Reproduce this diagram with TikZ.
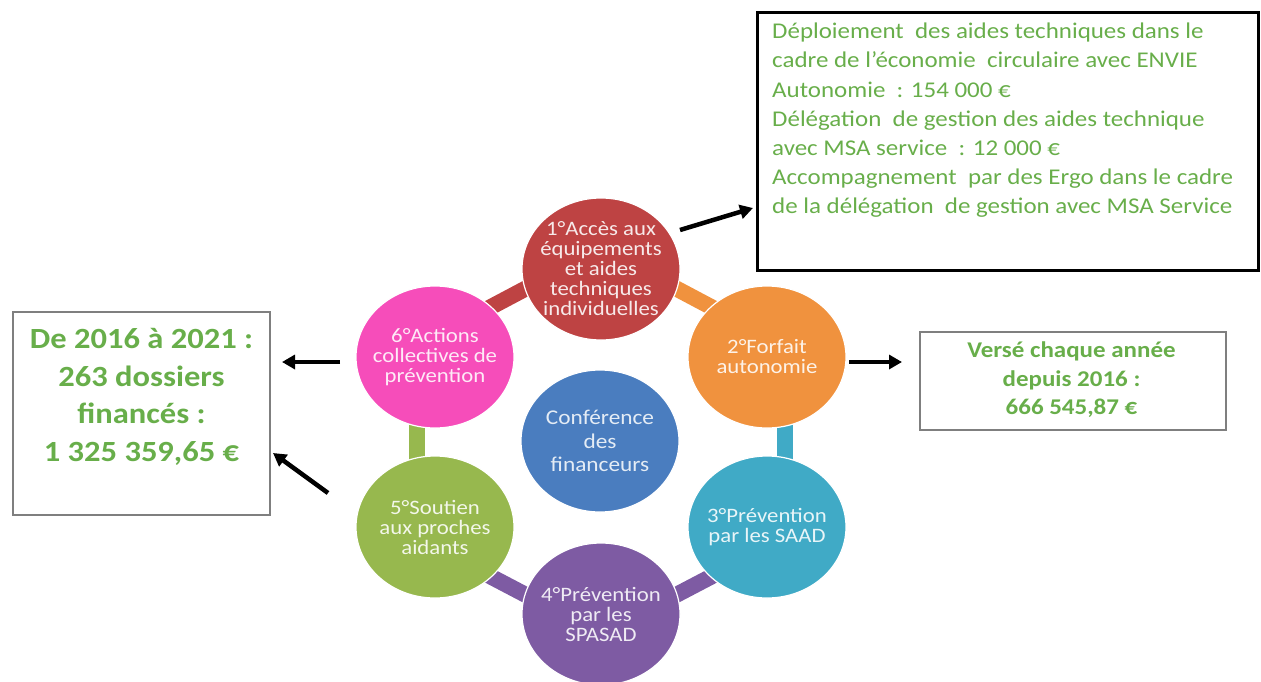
\documentclass[tikz,border=0pt]{standalone}
\usepackage{fontspec}
\setmainfont{Carlito}[FakeStretch=1.11]
\usetikzlibrary{arrows.meta,calc,backgrounds,shapes.geometric}

\definecolor{cred}{HTML}{BE4343}
\definecolor{corange}{HTML}{F0923E}
\definecolor{ccyan}{HTML}{40AAC6}
\definecolor{cpurple}{HTML}{7E5BA3}
\definecolor{cgreen}{HTML}{97B84E}
\definecolor{cpink}{HTML}{F64DBA}
\definecolor{cblue}{HTML}{4A7DBF}
\definecolor{txtgreen}{HTML}{68AE4A}
\definecolor{boxgray}{HTML}{7F7F7F}

\begin{document}
\begin{tikzpicture}[x=1pt,y=-1pt,
  disc/.style={ellipse, fill=#1, draw=white, line width=1.2pt,
    minimum width=158pt, minimum height=142pt, inner sep=0pt},
  disctext/.style={text=white!88!#1, font=\fontsize{20.5}{20}\selectfont,
    align=center, inner sep=0pt},
  ringbar/.style={line width=16pt, draw=#1},
  arr/.style={line width=4.5pt, -{Triangle[length=13pt,width=14pt]}},
  framebox/.style={draw=boxgray, line width=1.5pt, inner sep=0pt},
  greentext/.style={text=txtgreen, inner sep=0pt}
]
\useasboundingbox (0,0) rectangle (1261,681);

% ring of the six action areas around the central conference
\node[disc=cblue]   (c0) at (600,441) {};
\node[disc=cred]    (c1) at (601,269) {};
\node[disc=corange] (c2) at (767,357) {};
\node[disc=ccyan]   (c3) at (767,527) {};
\node[disc=cpurple] (c4) at (601,614) {};
\node[disc=cgreen]  (c5) at (435,527) {};
\node[disc=cpink]   (c6) at (435,357) {};

% short links between neighbouring discs, behind the discs
\begin{scope}[on background layer]
  \draw[ringbar=cred]    ($(c6)!18pt!90:(c1)$) -- ($(c1)!18pt!-90:(c6)$);
  \draw[ringbar=corange] ($(c1)!18pt!90:(c2)$) -- ($(c2)!18pt!-90:(c1)$);
  \draw[ringbar=ccyan]   ($(c2)!18pt!90:(c3)$) -- ($(c3)!18pt!-90:(c2)$);
  \draw[ringbar=cpurple] ($(c3)!18pt!90:(c4)$) -- ($(c4)!18pt!-90:(c3)$);
  \draw[ringbar=cpurple] ($(c4)!18pt!90:(c5)$) -- ($(c5)!18pt!-90:(c4)$);
  \draw[ringbar=cgreen]  ($(c5)!18pt!90:(c6)$) -- ($(c6)!18pt!-90:(c5)$);
\end{scope}

% disc labels
\node[text=white!85!cblue, font=\fontsize{21}{23.5}\selectfont, align=center, inner sep=0pt]
  (t0) at (c0) {Conférence\\des\\financeurs};
\node[disctext=cred]    (t1) at (c1) {1°Accès aux\\équipements\\et aides\\techniques\\individuelles};
\node[disctext=corange] (t2) at (c2) {2°Forfait\\autonomie};
\node[disctext=ccyan]   (t3) at (c3) {3°Prévention\\par les SAAD};
\node[disctext=cpurple] (t4) at (c4) {4°Prévention\\par les\\SPASAD};
\node[disctext=cgreen]  (t5) at (c5) {5°Soutien\\aux proches\\aidants};
\node[disctext=cpink]   (t6) at (c6) {6°Actions\\collectives de\\prévention};

% boxes with the amounts
\node[draw=black, line width=3pt, inner sep=0pt, minimum width=501pt, minimum height=258pt]
  (topbox) at (1007.5,141) {};
\node[greentext, anchor=west, align=left, font=\fontsize{22.5}{29.2}\selectfont]
  (toptext) at (772,120.5)
  {Déploiement\ \ des aides\ techniques\ dans le\\
   cadre de l’économie\ \ circulaire avec ENVIE\\
   Autonomie\ \ : 154 000 €\\
   Délégation\ \ de gestion\ des aides technique\\
   avec MSA service\ \ : 12 000 €\\
   Accompagnement\ \ par des Ergo dans le cadre\\
   de la délégation\ \ de gestion avec MSA Service};

\node[framebox, minimum width=257pt, minimum height=203pt] (leftbox) at (141.5,413.5) {};
\node[greentext, align=center, font=\bfseries\fontsize{29.3}{37.7}\selectfont]
  (lefttext) at (141.5,397)
  {De 2016 à 2021 :\\263 dossiers\\financés :\\1 325 359,65 €};

\node[framebox, minimum width=306pt, minimum height=98pt] (rightbox) at (1073,381) {};
\node[greentext, align=center, font=\bfseries\fontsize{22.5}{28.5}\selectfont]
  (righttext) at (1071.5,380)
  {Versé chaque année\\depuis 2016 :\\666 545,87 €};

% arrows from the discs to the boxes
\coordinate (a1s) at (680,230);
\coordinate (a1e) at (753,208);
\coordinate (a2s) at (849,362);
\coordinate (a2e) at (902,362);
\coordinate (a6s) at (340,362);
\coordinate (a6e) at (282,362);
\coordinate (a5s) at (328,493);
\coordinate (a5e) at (273,453);
\draw[arr] (a1s) -- (a1e);
\draw[arr] (a2s) -- (a2e);
\draw[arr] (a6s) -- (a6e);
\draw[arr] (a5s) -- (a5e);
\end{tikzpicture}
\end{document}
